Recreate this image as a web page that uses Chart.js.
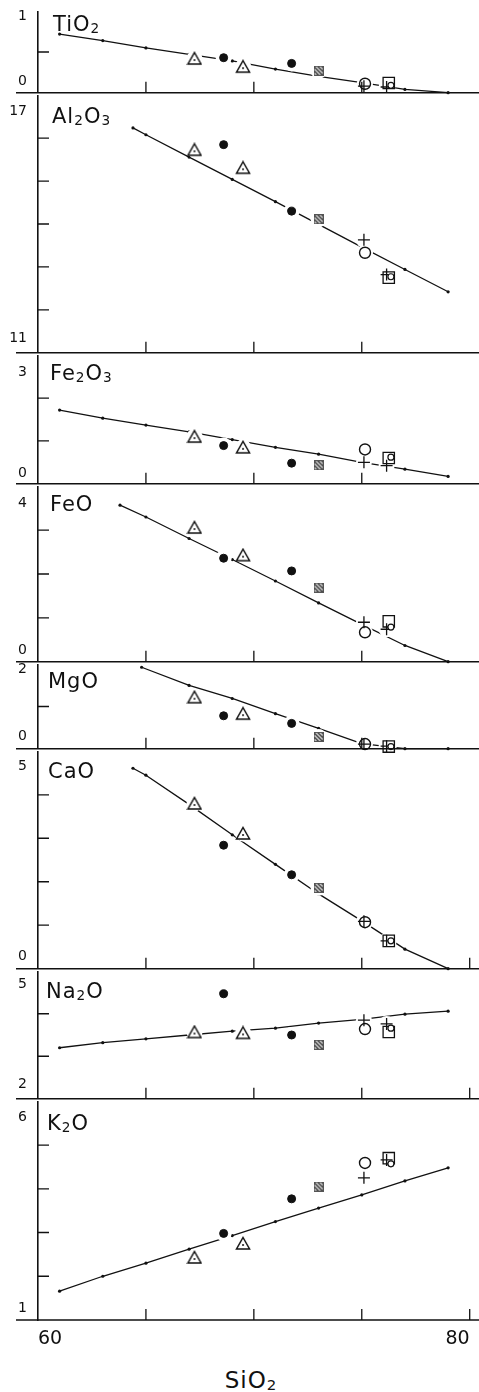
<!DOCTYPE html>
<html>
<head>
<meta charset="utf-8">
<script src="https://cdn.jsdelivr.net/npm/chart.js@4.4.0/dist/chart.umd.min.js"></script>
<style>
  html, body { margin: 0; padding: 0; background: #fff; }
  #wrap { position: relative; width: 479px; height: 1392px; overflow: hidden; }
  #wrap canvas { position: absolute; left: 0; }
  .lbl { position: absolute; font-family: "DejaVu Sans", sans-serif; font-size: 21px; line-height: 21px; color: #111; white-space: nowrap; letter-spacing: 1px; }
  .lbl sub { font-size: 0.65em; vertical-align: -0.12em; line-height: 0; }
</style>
</head>
<body>
<div id="wrap"></div>
<script>
// panels, top to bottom
const oxides = ['TiO2', 'Al2O3', 'Fe2O3', 'FeO', 'MgO', 'CaO', 'Na2O', 'K2O'];
const yMin = [0, 11, 0, 0, 0, 0, 2, 1];
const yMax = [1, 17, 3, 4, 2, 5, 5, 6];
const yStep = [0.5, 1, 1, 1, 1, 1, 1, 1];
const xTicks = [60, 65, 70, 75, 80];
const xTitle = 'SiO2';

// trend line through the calculated points
const lineSiO2 = [
    [61, 63, 65, 67, 69, 71, 73, 75, 77, 79],
    [64.4, 65, 67, 69, 71, 73, 75, 77, 79],
    [61, 63, 65, 67, 69, 71, 73, 75, 77, 79],
    [63.8, 65, 67, 69, 71, 73, 75, 77, 79],
    [64.8, 67, 69, 71, 73, 75, 77, 79],
    [64.4, 65, 67, 69, 71, 73, 75, 77, 79],
    [61, 63, 65, 67, 69, 71, 73, 75, 77, 79],
    [61, 63, 65, 67, 69, 71, 73, 75, 77, 79]
];
const lineValues = [
    [0.72, 0.64, 0.55, 0.47, 0.39, 0.29, 0.20, 0.125, 0.04, 0.0],
    [16.24, 16.08, 15.56, 15.04, 14.52, 13.99, 13.46, 12.94, 12.42],
    [1.72, 1.53, 1.37, 1.21, 1.03, 0.85, 0.69, 0.50, 0.34, 0.17],
    [3.57, 3.30, 2.81, 2.33, 1.84, 1.34, 0.85, 0.37, 0.0],
    [1.93, 1.50, 1.19, 0.83, 0.48, 0.12, 0.0, 0.0],
    [4.61, 4.45, 3.78, 3.08, 2.40, 1.72, 1.10, 0.45, 0.0],
    [3.20, 3.32, 3.41, 3.50, 3.59, 3.66, 3.78, 3.87, 3.99, 4.06],
    [1.66, 2.00, 2.30, 2.62, 2.93, 3.25, 3.56, 3.86, 4.18, 4.48]
];

// analysed samples
const triSiO2 = [67.25, 69.5];
const triValues = [[0.42, 0.32], [15.73, 15.31], [1.10, 0.85], [3.06, 2.43], [1.22, 0.83], [3.80, 3.11], [3.57, 3.55], [2.43, 2.75]];
const dotSiO2 = [68.6, 71.75];
const dotValues = [[0.43, 0.36], [15.85, 14.30], [0.89, 0.48], [2.36, 2.07], [0.78, 0.60], [2.84, 2.16], [4.47, 3.50], [2.98, 3.77]];
const greySiO2 = [73.0];
const greyValues = [[0.27], [14.11], [0.43], [1.69], [0.28], [1.86], [3.27], [4.05]];
const circleSiO2 = [75.15];
const circleValues = [[0.11], [13.33], [0.80], [0.67], [0.11], [1.07], [3.64], [4.59]];
const crossSiO2 = [75.1, 76.15];
const crossValues = [[0.08, 0.07], [13.63, 12.82], [0.50, 0.42], [0.90, 0.74], [0.11, 0.06], [1.09, 0.64], [3.85, 3.76], [4.25, 4.66]];
const squareSiO2 = [76.25];
const squareValues = [[0.12], [12.75], [0.60], [0.92], [0.05], [0.64], [3.57], [4.70]];
const ringSiO2 = [76.35];
const ringValues = [[0.09], [12.77], [0.62], [0.79], [0.05], [0.64], [3.66], [4.57]];

// page layout
const panelTop = [10, 94, 354, 485, 663, 750, 970, 1100];
const panelBottom = [94, 354, 485, 663, 750, 970, 1100, 1320];
const titleCapTop = [16, 108, 365, 496, 673, 763, 983, 1115];
const titleLeft = [53, 52, 50, 50, 48, 48, 46, 47];
const labelOffTop = [5, 16, 17, 17, 5, 15, 13, 16];
const labelOffBot = [11, 14, 10, 11, 12, 12, 14, 12];
const tick80 = [false, false, false, false, false, true, true, true];
const PAD = 8;
const XAXIS_H = 44;
const INK = '#111';
const FONT = '"DejaVu Sans", sans-serif';

function pts(xs, ys) {
    return xs.map((x, k) => ({ x: x, y: ys[k] }));
}

function sub(t) {
    return t.replace(/(\d)/g, '<sub>$1</sub>');
}

function makeTriangle() {
    const c = document.createElement('canvas');
    c.width = 16; c.height = 15;
    const g = c.getContext('2d');
    g.lineWidth = 1.5;
    g.strokeStyle = INK;
    g.fillStyle = '#fff';
    g.beginPath();
    g.moveTo(8, 1.5); g.lineTo(14.5, 13); g.lineTo(1.5, 13);
    g.closePath(); g.fill(); g.stroke();
    g.fillStyle = INK;
    g.beginPath(); g.arc(8, 9, 1, 0, Math.PI * 2); g.fill();
    return c;
}

function makeGrey() {
    const c = document.createElement('canvas');
    c.width = 10; c.height = 10;
    const g = c.getContext('2d');
    for (let i = 0; i < 10; i++) {
        for (let j = 0; j < 10; j++) {
            g.fillStyle = (i * 3 + j) % 4 < 2 ? '#4a4a4a' : '#c8c8c8';
            g.fillRect(i, j, 1, 1);
        }
    }
    g.strokeStyle = '#555';
    g.lineWidth = 1;
    g.strokeRect(0.5, 0.5, 9, 9);
    return c;
}

const triImg = makeTriangle();
const greyImg = makeGrey();

// x baseline with inward ticks, inward y ticks
const harkerAxes = {
    id: 'harkerAxes',
    afterDatasetsDraw(chart, args, opts) {
        const { ctx, chartArea: a } = chart;
        const x = chart.scales.x, y = chart.scales.y;
        ctx.save();
        ctx.strokeStyle = INK;
        ctx.lineWidth = 1.6;
        ctx.beginPath();
        ctx.moveTo(16, a.bottom);
        ctx.lineTo(chart.width, a.bottom);
        ctx.stroke();
        ctx.lineWidth = 1.3;
        ctx.beginPath();
        xTicks.forEach(v => {
            if (v === xTicks[0]) return;
            if (v === xTicks[xTicks.length - 1] && !opts.tick80) return;
            const px = x.getPixelForValue(v);
            ctx.moveTo(px, a.bottom);
            ctx.lineTo(px, a.bottom - 11);
        });
        y.ticks.forEach((t, k) => {
            if (k === 0 || k === y.ticks.length - 1) return;
            const py = y.getPixelForValue(t.value);
            ctx.moveTo(a.left, py);
            ctx.lineTo(a.left + 11, py);
        });
        ctx.stroke();
        ctx.restore();
    }
};

const wrap = document.getElementById('wrap');

oxides.forEach((ox, i) => {
    const last = i === oxides.length - 1;
    const h = panelBottom[i] - panelTop[i];
    const canvas = document.createElement('canvas');
    canvas.width = 479;
    canvas.height = h + PAD + (last ? XAXIS_H : PAD);
    canvas.style.top = (panelTop[i] - PAD) + 'px';
    wrap.appendChild(canvas);

    const title = document.createElement('div');
    title.className = 'lbl';
    title.style.left = titleLeft[i] + 'px';
    title.style.top = (titleCapTop[i] - 2.5) + 'px';
    title.innerHTML = sub(ox);
    wrap.appendChild(title);

    const tri = pts(triSiO2, triValues[i]);
    const dot = pts(dotSiO2, dotValues[i]);
    const grey = pts(greySiO2, greyValues[i]);
    const circ = pts(circleSiO2, circleValues[i]);
    const cross = pts(crossSiO2, crossValues[i]);
    const sq = pts(squareSiO2, squareValues[i]);
    const ring = pts(ringSiO2, ringValues[i]);

    new Chart(canvas, {
        type: 'scatter',
        data: {
            datasets: [{
                label: 'trend',
                data: pts(lineSiO2[i], lineValues[i]),
                showLine: true,
                borderColor: INK,
                borderWidth: 1.3,
                pointRadius: 1.6,
                pointBackgroundColor: INK,
                pointBorderWidth: 0,
                clip: false,
                order: 10
            }, {
                // the drawn line breaks where it meets a symbol
                label: 'gap',
                data: [].concat(tri, dot, grey, circ, cross, sq),
                pointStyle: 'circle',
                pointRadius: 8,
                backgroundColor: '#fff',
                borderWidth: 0,
                clip: false,
                order: 8
            }, {
                label: 'triangle',
                data: tri,
                pointStyle: triImg,
                pointRadius: 7,
                clip: false,
                order: 5
            }, {
                label: 'dot',
                data: dot,
                pointStyle: 'circle',
                pointRadius: 4,
                backgroundColor: INK,
                borderColor: INK,
                clip: false,
                order: 5
            }, {
                label: 'grey',
                data: grey,
                pointStyle: greyImg,
                pointRadius: 5,
                clip: false,
                order: 5
            }, {
                label: 'circle',
                data: circ,
                pointStyle: 'circle',
                pointRadius: 5.5,
                backgroundColor: '#fff',
                borderColor: INK,
                borderWidth: 1.4,
                clip: false,
                order: 4
            }, {
                label: 'square',
                data: sq,
                pointStyle: 'rect',
                pointRadius: 8,
                backgroundColor: 'rgba(0,0,0,0)',
                borderColor: INK,
                borderWidth: 1.3,
                clip: false,
                order: 3
            }, {
                label: 'cross',
                data: cross,
                pointStyle: 'cross',
                pointRadius: 6,
                borderColor: INK,
                borderWidth: 1.3,
                clip: false,
                order: 2
            }, {
                label: 'ring',
                data: ring,
                pointStyle: 'circle',
                pointRadius: 3,
                backgroundColor: '#fff',
                borderColor: INK,
                borderWidth: 1.2,
                clip: false,
                order: 1
            }]
        },
        options: {
            animation: false,
            responsive: false,
            events: [],
            layout: { padding: { top: PAD, bottom: last ? 0 : PAD, left: 0, right: 1 } },
            plugins: {
                legend: { display: false },
                tooltip: { enabled: false },
                harkerAxes: { tick80: tick80[i] }
            },
            scales: {
                x: {
                    type: 'linear',
                    min: xTicks[0],
                    max: xTicks[xTicks.length - 1],
                    display: last,
                    grid: { display: false, drawTicks: false },
                    border: { display: false },
                    ticks: {
                        stepSize: 5,
                        autoSkip: false,
                        maxRotation: 0,
                        align: 'inner',
                        padding: 8,
                        color: INK,
                        font: { family: FONT, size: 19 },
                        callback: (v, k, arr) => (k === 0 || k === arr.length - 1) ? String(v) : ''
                    },
                    afterFit: s => {
                        s.height = last ? XAXIS_H : 0;
                        s.paddingLeft = 0;
                        s.paddingRight = 0;
                    }
                },
                y: {
                    type: 'linear',
                    min: yMin[i],
                    max: yMax[i],
                    grid: { display: false, drawTicks: false },
                    border: { display: true, color: INK, width: 1.6 },
                    ticks: {
                        stepSize: yStep[i],
                        autoSkip: false,
                        padding: 11,
                        color: INK,
                        font: ctx => ({
                            family: FONT,
                            size: 14,
                            lineHeight: (ctx.index === 0 ? labelOffBot[i] : labelOffTop[i]) * 2 + 'px'
                        }),
                        callback: (v, k, arr) => {
                            if (k === 0) return [String(v), ''];
                            if (k === arr.length - 1) return ['', String(v)];
                            return '';
                        }
                    },
                    afterFit: s => { s.width = 38; s.paddingTop = 0; s.paddingBottom = 0; }
                }
            }
        },
        plugins: [harkerAxes]
    });
});

const xt = document.createElement('div');
xt.className = 'lbl';
xt.style.fontSize = '23px';
xt.style.lineHeight = '23px';
xt.style.left = '251px';
xt.style.top = '1369px';
xt.style.transform = 'translateX(-50%)';
xt.innerHTML = sub(xTitle);
wrap.appendChild(xt);
</script>
</body>
</html>
